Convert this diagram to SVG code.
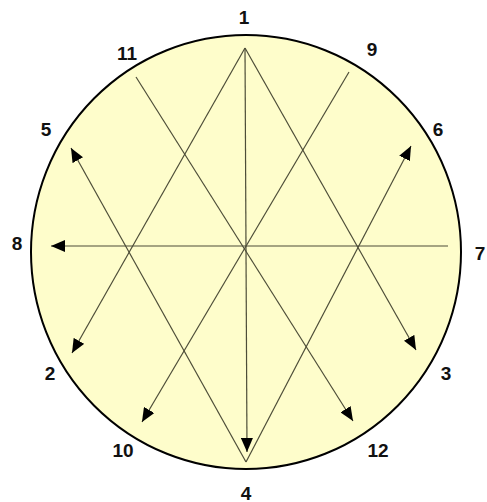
<svg xmlns="http://www.w3.org/2000/svg" width="487" height="502" viewBox="0 0 487 502">
<style>
.lbl{font-family:"Liberation Sans",Arial,sans-serif;font-weight:bold;font-size:19px;fill:#111;text-anchor:middle;dominant-baseline:central}
.ln{stroke:#4d4d38;stroke-width:1.2;fill:none}
.arr{marker-end:url(#ah)}
</style>
<defs>
<marker id="ah" markerUnits="userSpaceOnUse" markerWidth="14" markerHeight="12" refX="14" refY="6" orient="auto">
<path d="M0,0 L14,6 L0,12 z" fill="#000"/>
</marker>
</defs>
<g id="circle">
<ellipse cx="246" cy="252" rx="215" ry="217" fill="#FEFDCB" stroke="#000" stroke-width="2"/>
</g>
<g id="connectors">
<line class="ln arr" x1="245" y1="48" x2="72" y2="353"/>
<line class="ln arr" x1="245" y1="48" x2="247" y2="452"/>
<line class="ln arr" x1="245" y1="48" x2="416" y2="350"/>
<line class="ln arr" x1="246" y1="462" x2="71" y2="148"/>
<line class="ln arr" x1="246" y1="462" x2="411" y2="146"/>
<line class="ln arr" x1="136" y1="77" x2="353" y2="421"/>
<line class="ln arr" x1="349" y1="72" x2="142" y2="422"/>
<line class="ln arr" x1="448" y1="246" x2="51" y2="246"/>
</g>
<g id="labels">
<g id="n1"><text class="lbl" x="244" y="17">1</text></g>
<g id="n2"><text class="lbl" x="50" y="373">2</text></g>
<g id="n3"><text class="lbl" x="446" y="373">3</text></g>
<g id="n4"><text class="lbl" x="246" y="493">4</text></g>
<g id="n5"><text class="lbl" x="46" y="129">5</text></g>
<g id="n6"><text class="lbl" x="438" y="129">6</text></g>
<g id="n7"><text class="lbl" x="480" y="253">7</text></g>
<g id="n8"><text class="lbl" x="17" y="243">8</text></g>
<g id="n9"><text class="lbl" x="372" y="49">9</text></g>
<g id="n10"><text class="lbl" x="123" y="450">10</text></g>
<g id="n11"><text class="lbl" x="127" y="53">11</text></g>
<g id="n12"><text class="lbl" x="378" y="450">12</text></g>
</g>
</svg>
